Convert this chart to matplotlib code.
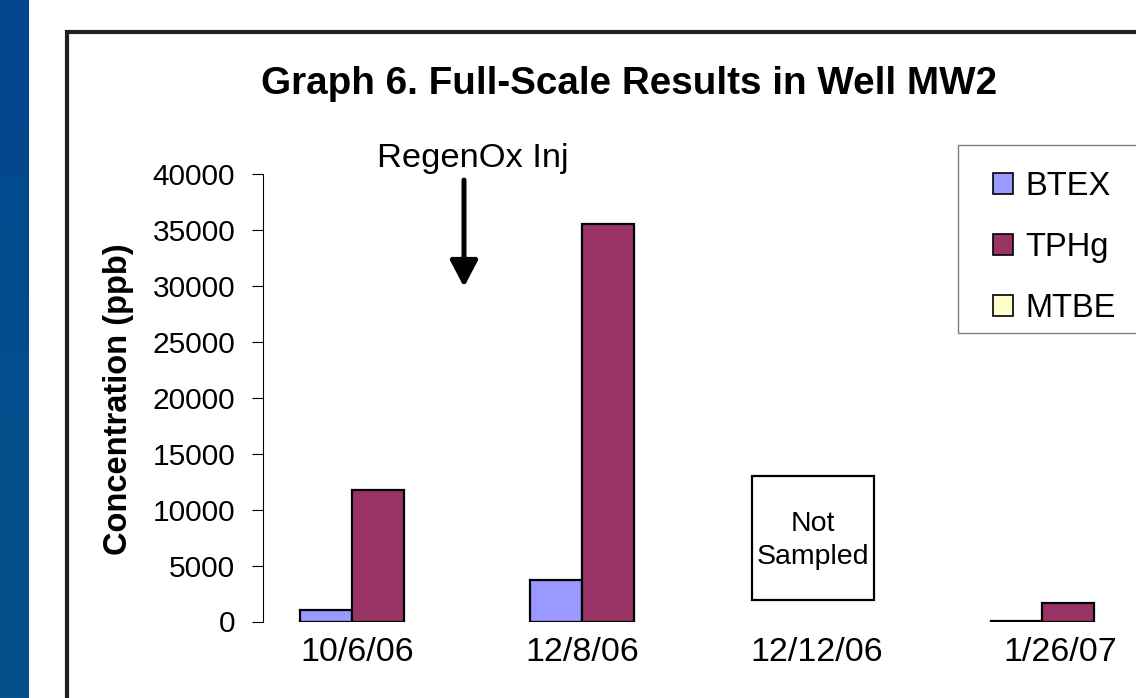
import numpy as np
import matplotlib
matplotlib.use("Agg")
import matplotlib.pyplot as plt
from matplotlib.patches import Rectangle, Patch
from matplotlib.colors import LinearSegmentedColormap

# ---- data ----
dates = ["10/6/06", "12/8/06", "12/12/06", "1/26/07"]
btex = [1000, 3750, np.nan, 30]
tphg = [11800, 35600, np.nan, 1700]
mtbe = [np.nan, np.nan, np.nan, np.nan]
series_names = ["BTEX", "TPHg", "MTBE"]
yticks = [0, 5000, 10000, 15000, 20000, 25000, 30000, 35000, 40000]

colors = {"BTEX": "#9999FF", "TPHg": "#993366", "MTBE": "#FFFFCC"}

plt.rcParams['font.family'] = ['Liberation Sans', 'DejaVu Sans']

W, H = 1136, 698
fig = plt.figure(figsize=(W / 100, H / 100), dpi=100)
fig.patch.set_facecolor("white")

def fx(px):
    return px / W

def fy(py):
    return 1 - py / H

# blue strip on the left
strip = fig.add_axes([0, 0, fx(29), 1])
grad = np.linspace(0, 1, 256).reshape(-1, 1)
cmap = LinearSegmentedColormap.from_list("s", ["#03468F", "#05528A"])
strip.imshow(grad, aspect="auto", cmap=cmap, extent=[0, 1, 0, 1], origin="upper")
strip.axis("off")

# chart frame (extends past the right and bottom edges)
fig.patches.append(Rectangle((fx(67), fy(760)), fx(1300) - fx(67), fy(32) - fy(760),
                             transform=fig.transFigure, fill=False,
                             edgecolor="#231F20", linewidth=3.0, zorder=0))

# main axes
left_px, right_px = 262.5, 1183.5
top_px, bot_px = 174.5, 621.5
ax = fig.add_axes([fx(left_px), fy(bot_px), fx(right_px - left_px), (bot_px - top_px) / H])
ax.set_facecolor("none")

x = np.arange(len(dates))
w = 0.225
for vals, name, off in zip([btex, tphg, mtbe], series_names, [-w, 0, w]):
    ax.bar(x + off, vals, width=w, color=colors[name], edgecolor="black",
           linewidth=1.6, label=name, zorder=3)

ax.set_xlim(-0.5, 3.5)
ax.set_ylim(0, 40000)
ax.set_yticks(yticks)
ax.set_yticklabels([str(v) for v in yticks], fontsize=21.5)
label_offsets = [-0.09, -0.113, -0.092, -0.035]
ax.set_xticks(x + np.array(label_offsets))
ax.set_xticklabels(dates, fontsize=24.5)
ax.tick_params(axis="x", length=0, pad=11)
ax.tick_params(axis="y", length=7.6, width=0.8, pad=12, direction="out")
for s in ["top", "right", "bottom"]:
    ax.spines[s].set_visible(False)
ax.spines["left"].set_linewidth(0.8)

# "Not Sampled" box
ax.add_patch(Rectangle((1.626, 1924), 2.154 - 1.626, 13020 - 1924, fill=False,
                       edgecolor="black", linewidth=1.6, zorder=4))
ax.text(1.89, 7250, "Not\nSampled", ha="center", va="center", fontsize=20.5,
        linespacing=1.35, zorder=5)

# title and y label
fig.text(fx(629), fy(84), "Graph 6. Full-Scale Results in Well MW2", ha="center",
         va="center", fontsize=27.8, fontweight="bold")
fig.text(fx(119), fy(399), "Concentration (ppb)", ha="center", va="center",
         rotation=90, fontsize=23.5, fontweight="bold")

# injection annotation
fig.text(fx(473), fy(159), "RegenOx Inj", ha="center", va="center", fontsize=24.8)
ax.annotate("", xy=(464, H - 287), xycoords="figure pixels",
            xytext=(464, H - 180), textcoords="figure pixels",
            arrowprops=dict(arrowstyle="-|>,head_length=0.8,head_width=0.42",
                            mutation_scale=20, lw=3.6, color="black",
                            shrinkA=0, shrinkB=0))

# legend
fig.patches.append(Rectangle((fx(958), fy(333)), fx(1300) - fx(958), fy(145) - fy(333),
                             transform=fig.transFigure, facecolor="white",
                             edgecolor="#808080", linewidth=1.0, zorder=1))
handles = [Patch(facecolor=colors[n], edgecolor="black", linewidth=1.2) for n in series_names]
leg = fig.legend(handles, series_names, loc="upper left",
                 bbox_to_anchor=(fx(967), fy(145)), frameon=False, fontsize=23.5,
                 handlelength=0.6, handleheight=0.6, handletextpad=0.4,
                 labelspacing=0.92, borderpad=0.3)
leg.set_zorder(5)

fig.savefig("out.png", dpi=100)
